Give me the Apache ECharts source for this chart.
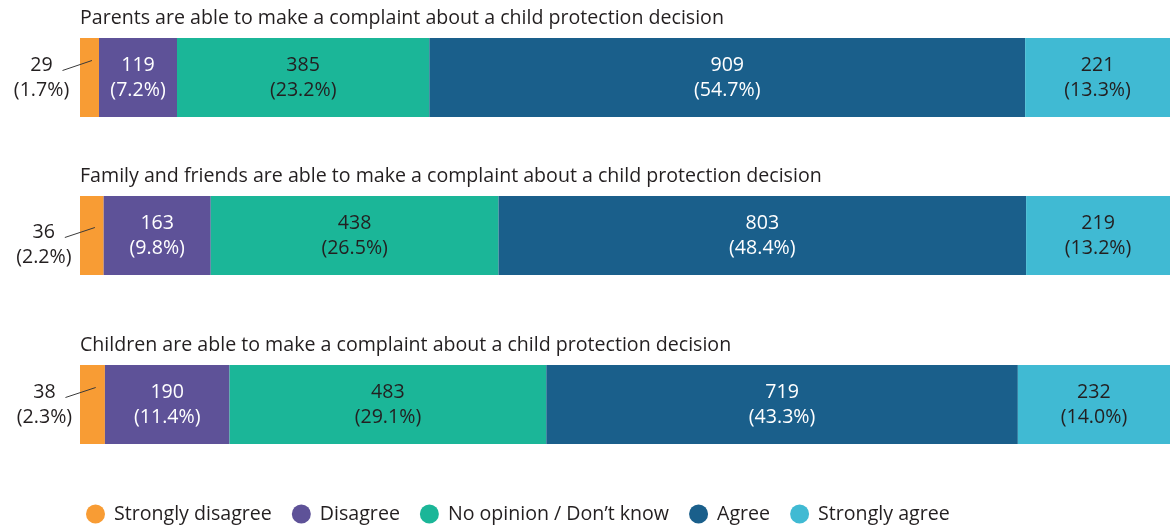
<!DOCTYPE html>
<html>
<head>
<meta charset="utf-8">
<script src="https://cdn.jsdelivr.net/npm/echarts@6/dist/echarts.min.js"></script>
<style>
html,body{margin:0;padding:0;background:#fff;}
#chart{width:1170px;height:527px;}
</style>
</head>
<body>
<div id="chart"></div>
<script>
const categories = [
  'Parents are able to make a complaint about a child protection decision',
  'Family and friends are able to make a complaint about a child protection decision',
  'Children are able to make a complaint about a child protection decision'
];
const responses = ['Strongly disagree', 'Disagree', 'No opinion / Don\u2019t know', 'Agree', 'Strongly agree'];
const stronglyDisagree = [29, 36, 38];
const disagree = [119, 163, 190];
const noOpinion = [385, 438, 483];
const agree = [909, 803, 719];
const stronglyAgree = [221, 219, 232];
const stronglyDisagreePct = ['1.7', '2.2', '2.3'];
const disagreePct = ['7.2', '9.8', '11.4'];
const noOpinionPct = ['23.2', '26.5', '29.1'];
const agreePct = ['54.7', '48.4', '43.3'];
const stronglyAgreePct = ['13.3', '13.2', '14.0'];

const counts = [stronglyDisagree, disagree, noOpinion, agree, stronglyAgree];
const pcts = [stronglyDisagreePct, disagreePct, noOpinionPct, agreePct, stronglyAgreePct];
const colors = ['#f89c34', '#5e5298', '#1bb698', '#1a5f8b', '#40bad3'];
const labelColors = ['#231f20', '#ffffff', '#231f20', '#ffffff', '#231f20'];
const gridTops = [38, 196, 365];
const barH = 79;
const outsideDx = -48;
const outsideDy = [0, 9, 0];
const FONT = '"Open Sans", "Liberation Sans", Arial, sans-serif';
const FS = 19.6;

const grids = [], xAxes = [], yAxes = [], series = [], titles = [];
categories.forEach((cat, i) => {
  const total = counts.reduce((s, arr) => s + arr[i], 0);
  grids.push({left: 80, right: 0, top: gridTops[i], height: barH});
  xAxes.push({gridIndex: i, type: 'value', min: 0, max: total, show: false});
  yAxes.push({gridIndex: i, type: 'category', data: [cat], show: false});
  titles.push({
    text: cat, left: 80, top: gridTops[i] - 30, padding: 0,
    textStyle: {fontFamily: FONT, fontSize: FS, fontWeight: 'normal', color: '#231f20'}
  });
  responses.forEach((r, j) => {
    const s = {
      type: 'bar', name: r, xAxisIndex: i, yAxisIndex: i, stack: 'row' + i,
      barWidth: '100%',
      data: [counts[j][i]],
      itemStyle: {color: colors[j]},
      emphasis: {disabled: true},
      label: {
        show: true, position: 'inside',
        formatter: () => counts[j][i] + '\n(' + pcts[j][i] + '%)',
        fontFamily: FONT, fontSize: FS, lineHeight: 25, color: labelColors[j]
      }
    };
    if (j === 0) {
      s.labelLayout = {dx: outsideDx, dy: outsideDy[i]};
    }
    series.push(s);
  });
});

const option = {
  animation: false,
  title: titles,
  grid: grids,
  xAxis: xAxes,
  yAxis: yAxes,
  legend: {
    data: responses, left: 81, top: 499,
    icon: 'circle', itemWidth: 19, itemHeight: 19, itemGap: 20,
    textStyle: {fontFamily: FONT, fontSize: FS, color: '#231f20', padding: [0, 0, 0, 4]}
  },
  series: series
};
const chart = echarts.init(document.getElementById('chart'), null, {renderer: 'canvas'});
chart.setOption(option);

// leader lines for the small outside labels, placed from the library's own scales
const leaders = stronglyDisagree.map((v, i) => {
  const a = chart.convertToPixel({xAxisIndex: i, yAxisIndex: i}, [0, categories[i]]);
  const b = chart.convertToPixel({xAxisIndex: i, yAxisIndex: i}, [v, categories[i]]);
  const cy = a[1] + outsideDy[i];
  const labelCx = (a[0] + b[0]) / 2 + outsideDx;
  return {
    type: 'line', silent: true, z: 100,
    shape: {x1: labelCx + 21, y1: cy - 7, x2: a[0] + (b[0] - a[0]) * 0.63, y2: cy - 17},
    style: {stroke: '#3a3a3a', lineWidth: 1}
  };
});
chart.setOption({graphic: leaders});
</script>
</body>
</html>
